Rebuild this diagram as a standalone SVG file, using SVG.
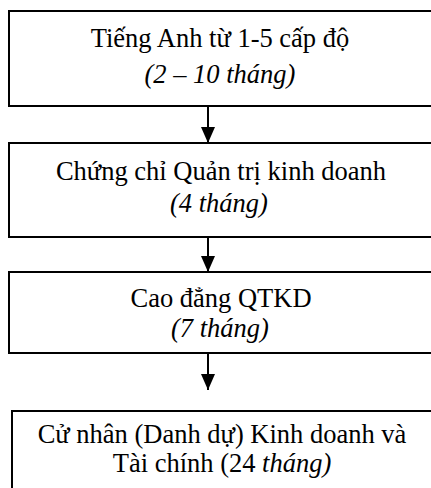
<svg xmlns="http://www.w3.org/2000/svg" width="431" height="488" viewBox="0 0 431 488">
<style>
.box{fill:#fff;stroke:#000;stroke-width:2}
.t{font-family:'Liberation Serif','DejaVu Serif',serif;font-size:26.5px;fill:#000;text-anchor:middle}
.i{font-style:italic}
.c{stroke:#000;stroke-width:2;fill:none}
</style>
<defs>
<marker id="ah" markerWidth="16" markerHeight="14" refX="16" refY="7" orient="auto" markerUnits="userSpaceOnUse">
<path d="M0,0 L16,7 L0,14 Z" fill="#000"/>
</marker>
</defs>
<rect width="431" height="488" fill="#fff"/>
<g id="n1">
<rect class="box" x="9" y="11" width="440" height="95"/>
<text class="t" font-family="Liberation Serif, serif" x="220" y="47">Tiếng Anh từ 1-5 cấp độ</text>
<text class="t i" font-family="Liberation Serif, serif" x="220" y="83">(2 – 10 tháng)</text>
</g>
<g id="n2">
<rect class="box" x="9" y="143" width="440" height="94"/>
<text class="t" font-family="Liberation Serif, serif" x="221" y="180">Chứng chỉ Quản trị kinh doanh</text>
<text class="t i" font-family="Liberation Serif, serif" x="219" y="212">(4 tháng)</text>
</g>
<g id="n3">
<rect class="box" x="9" y="272" width="440" height="81"/>
<text class="t" font-family="Liberation Serif, serif" x="221" y="307">Cao đẳng QTKD</text>
<text class="t i" font-family="Liberation Serif, serif" x="220" y="337">(7 tháng)</text>
</g>
<g id="n4">
<rect class="box" x="12" y="411" width="440" height="100"/>
<text class="t" font-family="Liberation Serif, serif" x="222" y="443">Cử nhân (Danh dự) Kinh doanh và</text>
<text class="t" font-family="Liberation Serif, serif" x="222" y="472">Tài chính (24 <tspan class="i">tháng)</tspan></text>
</g>
<g id="connectors">
<line class="c" x1="208" y1="106" x2="208" y2="143" marker-end="url(#ah)"/>
<line class="c" x1="208" y1="237" x2="208" y2="272" marker-end="url(#ah)"/>
<line class="c" x1="208" y1="353" x2="208" y2="390" marker-end="url(#ah)"/>
</g>
</svg>
